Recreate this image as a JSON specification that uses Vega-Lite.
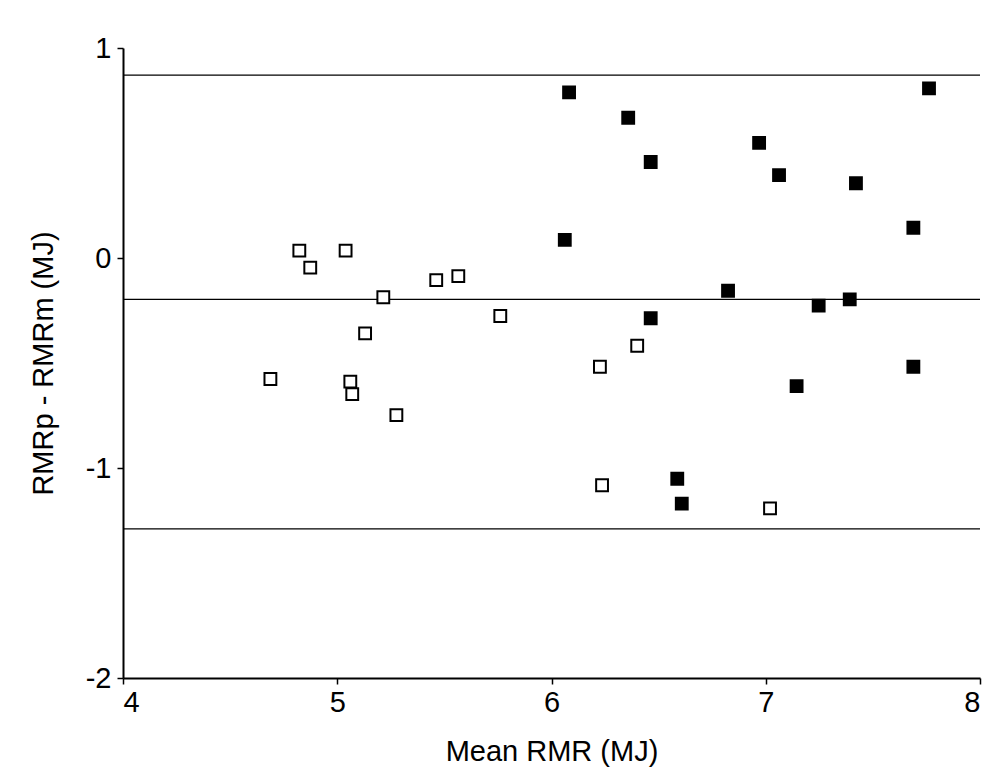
{
  "$schema": "https://vega.github.io/schema/vega-lite/v6.json",
  "width": 857,
  "height": 630,
  "autosize": {"type": "none"},
  "padding": {"left": 123, "top": 48, "right": 28, "bottom": 95},
  "background": "white",
  "config": {
    "view": {"stroke": null},
    "font": "Liberation Sans, Arial, Helvetica, sans-serif",
    "axis": {
      "grid": false,
      "domainColor": "black",
      "domainWidth": 2,
      "tickColor": "black",
      "tickWidth": 1.5,
      "tickSize": 6,
      "labelColor": "black",
      "labelFontSize": 29,
      "labelFont": "Liberation Sans, Arial, sans-serif",
      "titleColor": "black",
      "titleFontSize": 29,
      "titleFont": "Liberation Sans, Arial, sans-serif",
      "titleFontWeight": "normal"
    }
  },
  "datasets": {
    "points": [
      {"mean": 4.688, "diff": -0.576, "group": "open"},
      {"mean": 4.823, "diff": 0.035, "group": "open"},
      {"mean": 4.874, "diff": -0.046, "group": "open"},
      {"mean": 5.039, "diff": 0.035, "group": "open"},
      {"mean": 5.061, "diff": -0.589, "group": "open"},
      {"mean": 5.070, "diff": -0.648, "group": "open"},
      {"mean": 5.130, "diff": -0.359, "group": "open"},
      {"mean": 5.215, "diff": -0.187, "group": "open"},
      {"mean": 5.276, "diff": -0.748, "group": "open"},
      {"mean": 5.462, "diff": -0.105, "group": "open"},
      {"mean": 5.565, "diff": -0.086, "group": "open"},
      {"mean": 5.761, "diff": -0.276, "group": "open"},
      {"mean": 6.226, "diff": -0.518, "group": "open"},
      {"mean": 6.236, "diff": -1.082, "group": "open"},
      {"mean": 6.400, "diff": -0.418, "group": "open"},
      {"mean": 7.020, "diff": -1.192, "group": "open"},
      {"mean": 6.082, "diff": 0.789, "group": "filled"},
      {"mean": 6.062, "diff": 0.086, "group": "filled"},
      {"mean": 6.358, "diff": 0.668, "group": "filled"},
      {"mean": 6.463, "diff": 0.457, "group": "filled"},
      {"mean": 6.463, "diff": -0.287, "group": "filled"},
      {"mean": 6.587, "diff": -1.051, "group": "filled"},
      {"mean": 6.608, "diff": -1.170, "group": "filled"},
      {"mean": 6.824, "diff": -0.156, "group": "filled"},
      {"mean": 6.969, "diff": 0.548, "group": "filled"},
      {"mean": 7.062, "diff": 0.395, "group": "filled"},
      {"mean": 7.144, "diff": -0.610, "group": "filled"},
      {"mean": 7.247, "diff": -0.227, "group": "filled"},
      {"mean": 7.392, "diff": -0.197, "group": "filled"},
      {"mean": 7.421, "diff": 0.356, "group": "filled"},
      {"mean": 7.689, "diff": 0.144, "group": "filled"},
      {"mean": 7.689, "diff": -0.518, "group": "filled"},
      {"mean": 7.762, "diff": 0.808, "group": "filled"}
    ],
    "limits": [
      {"level": 0.871},
      {"level": -0.197},
      {"level": -1.290}
    ]
  },
  "layer": [
    {
      "data": {"name": "limits"},
      "mark": {"type": "rule", "color": "black", "strokeWidth": 1.2},
      "encoding": {
        "y": {"field": "level", "type": "quantitative", "scale": {"domain": [-2, 1]}}
      }
    },
    {
      "data": {"name": "points"},
      "mark": {"type": "point", "shape": "square", "filled": true, "size": 140, "stroke": "black", "strokeWidth": 2, "opacity": 1},
      "encoding": {
        "x": {
          "field": "mean", "type": "quantitative",
          "scale": {"domain": [4, 8], "nice": false, "zero": false},
          "axis": {"values": [4, 5, 6, 7, 8], "title": "Mean RMR (MJ)", "labelPadding": 4, "titlePadding": 20}
        },
        "y": {
          "field": "diff", "type": "quantitative",
          "scale": {"domain": [-2, 1], "nice": false, "zero": false},
          "axis": {"values": [-2, -1, 0, 1], "labelExpr": "'' + datum.value", "title": "RMRp - RMRm (MJ)", "labelPadding": 6, "titlePadding": 27}
        },
        "fill": {
          "field": "group", "type": "nominal",
          "scale": {"domain": ["filled", "open"], "range": ["black", "white"]},
          "legend": null
        }
      }
    }
  ]
}
